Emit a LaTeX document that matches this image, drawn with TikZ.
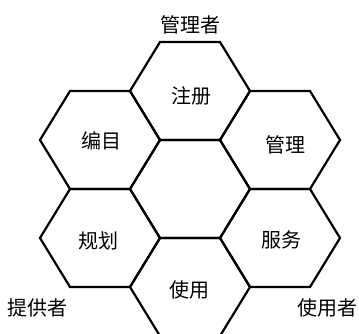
\documentclass[tikz,border=0pt]{standalone}
\usepackage{fontspec}
\setmainfont{Noto Sans CJK SC}
\usetikzlibrary{positioning}
\tikzset{
  hexa/.style={line width=2.2pt, line join=miter},
  lbl/.style={font=\fontsize{20}{22}\selectfont, inner sep=0pt}
}

\begin{document}
\begin{tikzpicture}[x=1pt, y=-1pt]
				\useasboundingbox (0,0) rectangle (359,333);
				\clip (0,0) rectangle (359,333);
				% hexagons: center x, center y
				\foreach \x/\y in {190/91, 100/140, 280/140, 190/189, 100/238, 280/238, 190/287}{
					\draw[hexa] (\x-60,\y) -- (\x-30,\y-49) -- (\x+30,\y-49) -- (\x+60,\y) -- (\x+30,\y+49) -- (\x-30,\y+49) -- cycle;
				}
				\node[lbl] (reg) at (191, 96) {注册};
				\node[lbl] (cat) at (101, 141) {编目};
				\node[lbl] (mgt) at (285, 145) {管理};
				\node[lbl] (plan) at (98, 241) {规划};
				\node[lbl] (serv) at (281, 240) {服务};
				\node[lbl] (use) at (189, 290) {使用};
				\node[lbl] (admin) at (190, 25) {管理者};
				\node[lbl] (prov) at (38, 308) {提供者};
				\node[lbl] (user) at (327, 308) {使用者};
			\end{tikzpicture}
\end{document}
